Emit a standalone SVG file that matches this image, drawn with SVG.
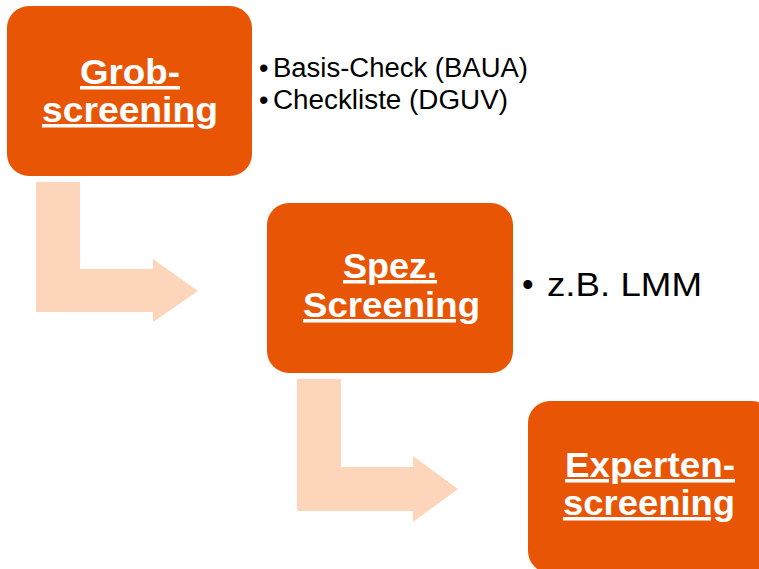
<svg xmlns="http://www.w3.org/2000/svg" width="759" height="569" viewBox="0 0 759 569">
  <style>
    .box { fill: #E85505; }
    .arrow { fill: #FDD5BA; }
    .title { font-family: "Liberation Sans", Arial, sans-serif; font-weight: bold; font-size: 35px; fill: #FFFFFF; text-anchor: start; text-decoration: underline; }
    .note { font-family: "Liberation Sans", Arial, sans-serif; fill: #000000; }
  </style>

  <!-- step connectors: L-shaped block arrows -->
  <g id="connectors">
    <path class="arrow" d="M36,182 H80 V269 H153 V259 L198,291 L153,322 V312 H36 Z"/>
    <path class="arrow" d="M297,379 H341 V467 H413 V456 L458,489 L413,522 V511 H297 Z"/>
  </g>

  <!-- step 1 -->
  <g id="grobscreening">
    <rect class="box" x="7" y="6" width="245" height="170" rx="22" ry="22"/>
    <text class="title" x="80" y="84" textLength="100" lengthAdjust="spacingAndGlyphs">Grob-</text>
    <text class="title" x="42" y="122" textLength="176" lengthAdjust="spacingAndGlyphs">screening</text>
  </g>

  <g id="grob-notes">
    <text class="note" font-size="27" y="77"><tspan x="259">•</tspan><tspan x="273" textLength="255" lengthAdjust="spacingAndGlyphs">Basis-Check (BAUA)</tspan></text>
    <text class="note" font-size="27" y="109"><tspan x="259">•</tspan><tspan x="273" textLength="235" lengthAdjust="spacingAndGlyphs">Checkliste (DGUV)</tspan></text>
  </g>

  <!-- step 2 -->
  <g id="spez-screening">
    <rect class="box" x="267" y="203" width="246" height="170" rx="22" ry="22"/>
    <text class="title" x="343" y="278" textLength="94" lengthAdjust="spacingAndGlyphs">Spez.</text>
    <text class="title" x="303" y="317" textLength="177" lengthAdjust="spacingAndGlyphs">Screening</text>
  </g>

  <g id="spez-notes">
    <text class="note" font-size="33" y="296"><tspan x="522">•</tspan><tspan x="547" textLength="155" lengthAdjust="spacingAndGlyphs">z.B. LMM</tspan></text>
  </g>

  <!-- step 3 -->
  <g id="expertenscreening">
    <rect class="box" x="528" y="401" width="246" height="172" rx="22" ry="22"/>
    <text class="title" x="565" y="477" textLength="170" lengthAdjust="spacingAndGlyphs">Experten-</text>
    <text class="title" x="563" y="515" textLength="172" lengthAdjust="spacingAndGlyphs">screening</text>
  </g>
</svg>
